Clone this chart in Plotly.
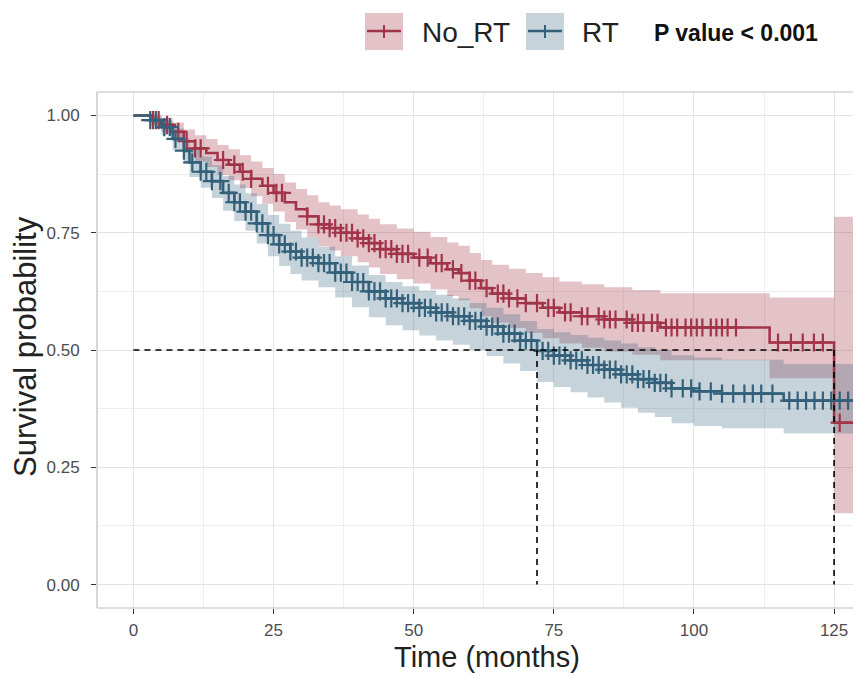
import bisect

import plotly.graph_objects as go

# Kaplan-Meier estimates (time in months)
red_time = [0, 3.5, 5, 7, 9, 11, 13, 15, 17, 19, 21, 23, 25, 27, 29, 31, 33, 35, 37, 40,
            42, 44, 47, 50, 53, 56, 58, 60, 62, 64, 67, 70, 73, 76, 80, 84, 89, 94, 113.5, 125, 128.8]
red_surv = [1.0, 0.99, 0.98, 0.965, 0.945, 0.93, 0.92, 0.905, 0.895, 0.88, 0.865, 0.85, 0.835, 0.815,
            0.8, 0.785, 0.768, 0.76, 0.75, 0.738, 0.728, 0.715, 0.705, 0.697, 0.685, 0.672, 0.664,
            0.648, 0.632, 0.62, 0.61, 0.6, 0.59, 0.58, 0.572, 0.565, 0.558, 0.548, 0.516, 0.345, 0.345]
red_upper = [1.0, 1.0, 0.995, 0.985, 0.97, 0.958, 0.95, 0.937, 0.928, 0.915, 0.902, 0.888, 0.875,
             0.857, 0.843, 0.83, 0.815, 0.808, 0.8, 0.789, 0.78, 0.768, 0.759, 0.752, 0.741, 0.729,
             0.722, 0.707, 0.692, 0.682, 0.673, 0.664, 0.655, 0.646, 0.64, 0.634, 0.628, 0.621,
             0.612, 0.784, 0.784]
red_lower = [1.0, 0.98, 0.965, 0.945, 0.92, 0.902, 0.89, 0.873, 0.862, 0.845, 0.828, 0.812, 0.795,
             0.773, 0.757, 0.74, 0.721, 0.712, 0.7, 0.687, 0.676, 0.662, 0.651, 0.642, 0.629, 0.615,
             0.606, 0.589, 0.572, 0.558, 0.547, 0.536, 0.525, 0.514, 0.505, 0.497, 0.49, 0.478,
             0.44, 0.152, 0.152]
red_censor = [3.5, 4.5, 6, 8, 9.5, 11, 12, 16, 18, 19.5, 21, 24, 25.5, 26.5, 31, 33, 34, 35, 36, 37,
              38, 39, 40, 41, 42, 43, 44, 45, 46, 47, 48, 49, 51, 52.5, 54, 55, 57, 58.5, 60, 61,
              63, 65, 66, 67, 68.5, 70, 72, 74, 75, 77, 78, 80, 81, 83, 84, 85, 86, 88, 89, 90, 91,
              92.5, 93.5, 95, 96, 97, 98.5, 99.5, 100.5, 101.5, 103, 104, 105, 106, 107.5, 115,
              117.3, 119.4, 121.4, 123, 126, 128.8]

blue_time = [0, 3, 5, 7, 9, 10, 12, 14, 16, 18, 20, 22, 24, 26, 28, 30, 33, 36, 39, 42, 45, 48,
             51, 54, 57, 60, 63, 66, 69, 72, 75, 78, 81, 84, 87, 90, 93, 96, 100, 105, 116, 130]
blue_surv = [1.0, 0.99, 0.975, 0.95, 0.925, 0.9, 0.88, 0.86, 0.835, 0.815, 0.795, 0.77, 0.745,
             0.725, 0.71, 0.697, 0.685, 0.665, 0.645, 0.625, 0.61, 0.6, 0.59, 0.58, 0.572, 0.562,
             0.55, 0.535, 0.52, 0.498, 0.488, 0.478, 0.468, 0.458, 0.448, 0.438, 0.43, 0.418,
             0.412, 0.407, 0.392, 0.392]
blue_upper = [1.0, 1.0, 0.99, 0.972, 0.952, 0.93, 0.912, 0.894, 0.871, 0.853, 0.834, 0.811,
              0.788, 0.769, 0.754, 0.74, 0.72, 0.7, 0.68, 0.66, 0.645, 0.636, 0.627, 0.618,
              0.61, 0.6, 0.59, 0.576, 0.562, 0.545, 0.538, 0.532, 0.526, 0.52, 0.514, 0.506,
              0.5, 0.489, 0.484, 0.479, 0.47, 0.462]
blue_lower = [1.0, 0.978, 0.958, 0.927, 0.897, 0.869, 0.846, 0.824, 0.797, 0.775, 0.754, 0.727,
              0.7, 0.679, 0.662, 0.648, 0.634, 0.612, 0.591, 0.57, 0.553, 0.542, 0.531, 0.52,
              0.511, 0.5, 0.487, 0.471, 0.455, 0.432, 0.421, 0.41, 0.399, 0.388, 0.377, 0.366,
              0.357, 0.344, 0.338, 0.333, 0.322, 0.34]
blue_censor = [3, 4, 5.5, 6.5, 7.5, 9, 10.5, 12, 13, 14, 15.5, 17, 18, 19, 20, 21, 22, 23, 24, 25,
               26, 27, 28, 29, 30, 31, 32, 33, 34, 35, 36, 37, 38, 39, 40, 41, 42, 43, 44, 45, 46,
               47, 48, 49, 50, 51, 52, 53, 54, 55, 56, 57, 58, 59, 60, 61, 62, 63, 64, 65, 66, 67,
               68, 69, 70, 71, 73, 74, 75, 76, 77, 78, 79, 80, 81, 82, 83, 84, 85, 86, 87, 88, 89,
               90, 91, 92, 93, 94, 95, 96, 98, 99.5, 101, 103, 105, 107, 109, 110.5, 112, 114, 117,
               118.5, 120, 121.5, 123, 124.5, 126, 127.5, 129]

median_times = [72, 125]
median_level = 0.5

x_ticks = [0, 25, 50, 75, 100, 125]
y_ticks = [0.0, 0.25, 0.5, 0.75, 1.0]
y_tick_text = ["0.00", "0.25", "0.50", "0.75", "1.00"]

RED = "#a2344a"
BLUE = "#33607a"
RED_FILL = "rgba(162,52,74,0.30)"
BLUE_FILL = "rgba(51,96,122,0.28)"

# the page body adds an 8px offset, so the figure is drawn 8px smaller
OFF = 8
W, H = 861 - OFF, 677 - OFF
L, R, T, B = 97 - OFF, 0, 92 - OFF, 677 - 608


def px_x(p):
    return (p - OFF - L) / (W - L - R)


def px_y(p):
    return (H - B - (p - OFF)) / (H - T - B)


def surv_at(times, surv, t):
    return surv[bisect.bisect_right(times, t) - 1]


fig = go.Figure()

for times, up, lo, fill in [(red_time, red_upper, red_lower, RED_FILL),
                            (blue_time, blue_upper, blue_lower, BLUE_FILL)]:
    fig.add_trace(go.Scatter(x=times, y=up, mode="lines", line=dict(width=0, shape="hv"),
                             hoverinfo="skip", showlegend=False))
    fig.add_trace(go.Scatter(x=times, y=lo, mode="lines", line=dict(width=0, shape="hv"),
                             fill="tonexty", fillcolor=fill, hoverinfo="skip", showlegend=False))

for times, surv, cens, col, name in [(red_time, red_surv, red_censor, RED, "No_RT"),
                                     (blue_time, blue_surv, blue_censor, BLUE, "RT")]:
    fig.add_trace(go.Scatter(x=times, y=surv, mode="lines", name=name,
                             line=dict(color=col, width=2.6, shape="hv"), showlegend=False))
    fig.add_trace(go.Scatter(x=cens, y=[surv_at(times, surv, t) for t in cens], mode="markers",
                             marker=dict(symbol="cross-thin", size=13,
                                         line=dict(color=col, width=2.2)),
                             hoverinfo="skip", showlegend=False))

# median survival guides
dash_line = dict(color="black", width=1.6, dash="6px,5px")
fig.add_trace(go.Scatter(x=[0, max(median_times)], y=[median_level, median_level], mode="lines",
                         line=dash_line, hoverinfo="skip", showlegend=False))
for m in median_times:
    fig.add_trace(go.Scatter(x=[m, m], y=[median_level, 0], mode="lines",
                             line=dash_line, hoverinfo="skip", showlegend=False))

axis_font = dict(family="Liberation Sans, Arial, sans-serif", size=17, color="#4d4d4d")
fig.update_xaxes(range=[-6.5, 129.8], tickvals=x_ticks, ticks="outside", ticklen=5,
                 tickwidth=1.2, tickcolor="#333333", tickfont=axis_font, ticklabelstandoff=2,
                 showgrid=True, gridcolor="#e3e3e3", gridwidth=1.2, zeroline=False,
                 minor=dict(dtick=12.5, tick0=0, showgrid=True, gridcolor="#eeeeee", gridwidth=0.8))
fig.update_yaxes(range=[-0.05, 1.05], tickvals=y_ticks, ticktext=y_tick_text, ticks="outside",
                 ticklen=5, tickwidth=1.2, tickcolor="#333333", tickfont=axis_font, ticklabelstandoff=8,
                 showgrid=True, gridcolor="#e3e3e3", gridwidth=1.2, zeroline=False,
                 minor=dict(dtick=0.125, tick0=0, showgrid=True, gridcolor="#eeeeee", gridwidth=0.8))

# panel border (right edge is cropped in the reference)
border = dict(color="#bdbdbd", width=1.2)
fig.add_shape(type="line", xref="paper", yref="paper", x0=0, x1=0, y0=0, y1=1, line=border)
fig.add_shape(type="line", xref="paper", yref="paper", x0=0, x1=1, y0=1, y1=1, line=border)
fig.add_shape(type="line", xref="paper", yref="paper", x0=0, x1=1, y0=0, y1=0, line=border)

# hand-drawn legend
for x0, col, fill, label, tx in [(365, RED, RED_FILL, "No_RT", 420), (526, BLUE, BLUE_FILL, "RT", 580)]:
    fig.add_shape(type="rect", xref="paper", yref="paper", x0=px_x(x0), x1=px_x(x0 + 38),
                  y0=px_y(50), y1=px_y(13), fillcolor=fill, line=dict(width=0))
    fig.add_shape(type="line", xref="paper", yref="paper", x0=px_x(x0 + 2), x1=px_x(x0 + 36),
                  y0=px_y(31), y1=px_y(31), line=dict(color=col, width=2.6))
    fig.add_shape(type="line", xref="paper", yref="paper", x0=px_x(x0 + 19), x1=px_x(x0 + 19),
                  y0=px_y(25), y1=px_y(38), line=dict(color=col, width=2))
    fig.add_annotation(text=label, xref="paper", yref="paper", x=px_x(tx), y=px_y(32),
                       xanchor="left", yanchor="middle", showarrow=False,
                       font=dict(family="Liberation Sans, Arial, sans-serif", size=28, color="#222222"))

fig.add_annotation(text="<b>P value < 0.001</b>", xref="paper", yref="paper", x=px_x(652),
                   y=px_y(33), xanchor="left", yanchor="middle", showarrow=False,
                   font=dict(family="Liberation Sans, Arial, sans-serif", size=23, color="#111111"))

# axis titles
fig.add_annotation(text="Time (months)", xref="paper", yref="paper", x=px_x(487), y=px_y(657),
                   xanchor="center", yanchor="middle", showarrow=False,
                   font=dict(family="Liberation Sans, Arial, sans-serif", size=29, color="#222222"))
fig.add_annotation(text="Survival probability", xref="paper", yref="paper", x=px_x(25), y=px_y(347),
                   xanchor="center", yanchor="middle", textangle=-90, showarrow=False,
                   font=dict(family="Liberation Sans, Arial, sans-serif", size=31, color="#222222"))

fig.update_layout(width=W, height=H, margin=dict(l=L, r=R, t=T, b=B),
                  plot_bgcolor="white", paper_bgcolor="white", showlegend=False)

fig.write_html("out.html")
